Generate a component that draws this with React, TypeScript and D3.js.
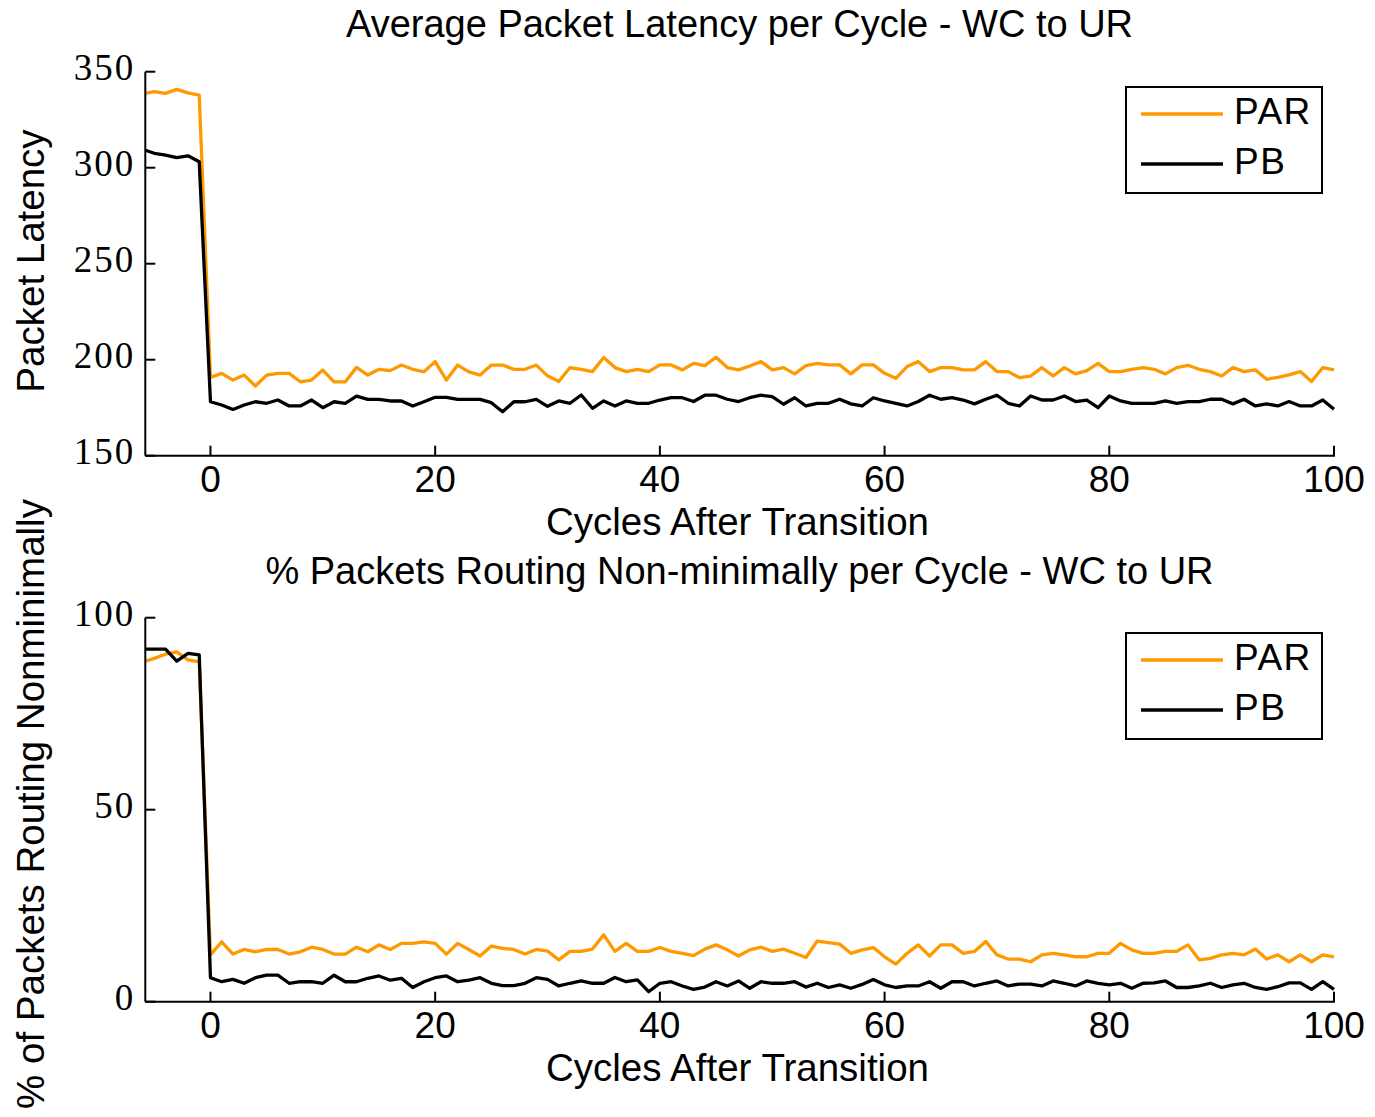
import React from "react";
import * as d3 from "d3";

// Cycle offsets relative to the traffic pattern transition
const cycles: number[] = d3.range(-6, 101);

// Average packet latency per cycle
const parLatency: number[] = [
  338.5, 339.6, 338.7, 340.8, 339, 337.8,
  190.8, 192.9, 189.4, 192, 186.3, 192, 192.9, 192.9, 188.5, 189.4, 194.6, 188.5, 188.5, 196, 192, 195, 194.3, 197.2, 195, 193.7, 199, 189.4, 197.2, 193.7, 192, 197.2, 197.2, 195, 195, 197.2, 191.6,
  188.6, 195.9, 195, 193.8, 201.1, 195.9, 193.8, 195, 193.8, 197.3, 197.3, 194.7, 198.1, 196.9, 201.3, 195.9, 194.7, 196.7, 199, 194.7, 195.9, 192.6, 196.9, 198.1, 197.3, 197.3, 192.6, 197.3, 197.3, 192.9, 190.3, 196.4, 199, 193.8, 195.9, 195.9,
  194.7, 194.7, 199, 193.8, 193.8, 190.7, 191.5, 195.9, 191.5, 195.9, 192.6, 194.3, 198.1, 193.8, 193.8, 195, 195.9, 195, 192.6, 195.9, 197.1, 195, 193.8, 191.5, 195.9, 193.8, 194.7, 189.8, 190.8, 192.1, 193.8, 188.6, 195.9, 194.7,
];
const pbLatency: number[] = [
  309.5, 307.5, 306.6, 305.2, 306.2, 303.1,
  178.1, 176.4, 174.1, 176.4, 178.1, 177.3, 179, 175.9, 175.9, 179, 175, 178.1, 177.3, 181, 179.3, 179.3, 178.5, 178.5, 175.9, 178.1, 180.4, 180.4, 179.3, 179.3, 179.3, 177.6, 172.9, 178.1, 178.1, 179.3, 175.7,
  178.5, 177.3, 181.6, 174.7, 178.5, 175.9, 178.5, 177.3, 177.3, 179, 180.2, 180.2, 178.2, 181.5, 181.5, 179.4, 178.2, 180.2, 181.5, 180.8, 176.8, 180.2, 175.9, 177.3, 177.3, 179.4, 177, 175.9, 180.2, 178.5, 177.3, 175.9, 178.2, 181.5, 179.4, 180.2,
  179, 177, 179.4, 181.5, 177.3, 175.9, 181.1, 179, 179, 181.1, 178.2, 179, 175, 181.1, 178.5, 177.3, 177.3, 177.3, 178.5, 177.3, 178.2, 178.2, 179.4, 179.4, 177, 179.4, 175.9, 177, 175.9, 178.2, 175.9, 175.9, 179, 174.2,
];

// Percentage of packets routed non-minimally per cycle
const parNonmin: number[] = [
  88.5, 89.4, 90.5, 91.1, 89, 88.5,
  12.2, 15.6, 12.4, 13.6, 13, 13.6, 13.6, 12.4, 13, 14.2, 13.6, 12.4, 12.4, 14.2, 13, 14.8, 13.6, 15.2, 15.2, 15.6, 15.2, 12.4, 15.2, 13.6, 11.9, 14.5, 13.9, 13.6, 12.4, 13.6, 13.2,
  10.9, 13.1, 13.1, 13.7, 17.4, 13.1, 15.2, 13.1, 13.1, 14.1, 13.1, 12.6, 12, 13.7, 14.8, 13.5, 11.9, 13.5, 14.2, 13.1, 13.7, 12.6, 11.5, 15.8, 15.4, 15, 12.6, 13.5, 14.1, 11.7, 9.8, 12.6, 14.8, 11.9, 14.8, 14.8,
  12.6, 13.1, 15.7, 12.2, 11.1, 11.1, 10.4, 12.2, 12.6, 12.2, 11.7, 11.7, 12.6, 12.6, 15.2, 13.5, 12.6, 12.6, 13.1, 13.1, 14.8, 10.9, 11.3, 12.2, 12.6, 12.2, 13.7, 11.1, 12.2, 10.4, 12.2, 10.4, 12.2, 11.7,
];
const pbNonmin: number[] = [
  91.8, 91.8, 91.8, 88.7, 90.7, 90.3,
  6.25, 5.2, 5.8, 4.8, 6.25, 6.9, 6.9, 4.8, 5.2, 5.2, 4.8, 6.9, 5.2, 5.2, 6.1, 6.7, 5.6, 6.1, 3.7, 5.2, 6.25, 6.7, 5.2, 5.6, 6.25, 4.8, 4.2, 4.2, 4.8, 6.25, 5.8,
  4.1, 4.8, 5.4, 4.8, 4.8, 6.3, 5.2, 5.7, 2.6, 4.8, 5.2, 4.1, 3.2, 3.8, 5.2, 4.1, 5.4, 3.5, 5.2, 4.8, 4.8, 5.2, 3.8, 4.8, 3.7, 4.4, 3.5, 4.5, 5.8, 4.4, 3.7, 4.1, 4.1, 5.2, 3.5, 5.2,
  5.2, 4.1, 4.8, 5.4, 4.1, 4.6, 4.6, 4.1, 5.4, 4.8, 4.1, 5.4, 4.8, 4.4, 4.8, 3.5, 4.8, 4.9, 5.4, 3.7, 3.7, 4.1, 4.8, 3.7, 4.4, 4.8, 3.7, 3.2, 3.9, 4.9, 4.9, 3.2, 5.2, 3.2,
];

const xTicks: number[] = [0, 20, 40, 60, 80, 100];
const latencyTicks: number[] = [150, 200, 250, 300, 350];
const nonminTicks: number[] = [0, 50, 100];
const seriesNames: string[] = ["PAR", "PB"];
const seriesColors: string[] = ["#ff9900", "#000000"];

const SANS = "'Liberation Sans', Arial, Helvetica, sans-serif";
const SERIF = "'Liberation Serif', 'Times New Roman', serif";
const FS = 38;

interface PanelProps {
  id: string;
  top: number;
  bottom: number;
  yDomain: [number, number];
  yTicks: number[];
  series: number[][];
  title: string;
  titleY: number;
  yLabel: string;
  yLabelCenter: number;
  legendTop: number;
}

const LEFT = 145.3;
const RIGHT = 1334;
const CENTER = 739.5;

function Panel(p: PanelProps) {
  const x = d3.scaleLinear().domain([-5.8, 100]).range([LEFT, RIGHT]);
  const y = d3.scaleLinear().domain(p.yDomain).range([p.bottom, p.top]);
  const line = d3
    .line<number>()
    .x((_, i) => x(cycles[i]))
    .y((v) => y(v));
  const tickLen = 10;
  const lg = { x: 1126, y: p.legendTop, w: 196, h: 106 };
  return (
    <g>
      <defs>
        <clipPath id={`clip-${p.id}`}>
          <rect x={LEFT} y={p.top - 20} width={RIGHT - LEFT + 2} height={p.bottom - p.top + 40} />
        </clipPath>
      </defs>
      <text x={CENTER} y={p.titleY} textAnchor="middle" fontSize={FS}>
        {p.title}
      </text>
      <g clipPath={`url(#clip-${p.id})`}>
        {p.series.map((s, k) => (
          <path
            key={k}
            d={line(s) || ""}
            fill="none"
            stroke={seriesColors[k]}
            strokeWidth={3.3}
            strokeLinejoin="round"
          />
        ))}
      </g>
      {/* axes */}
      <line x1={LEFT} x2={LEFT} y1={p.top} y2={p.bottom} stroke="#000" strokeWidth={2} />
      <line x1={LEFT} x2={RIGHT + 1} y1={p.bottom} y2={p.bottom} stroke="#000" strokeWidth={2} />
      {p.yTicks.map((t) => (
        <g key={`y${t}`}>
          <line x1={LEFT} x2={LEFT + tickLen} y1={y(t)} y2={y(t)} stroke="#000" strokeWidth={2} />
          <text
            x={LEFT - 10}
            y={y(t) + 8}
            textAnchor="end"
            fontSize={37}
            fontFamily={SERIF}
            letterSpacing={2}
          >
            {t}
          </text>
        </g>
      ))}
      {xTicks.map((t) => (
        <g key={`x${t}`}>
          <line x1={x(t)} x2={x(t)} y1={p.bottom} y2={p.bottom - tickLen} stroke="#000" strokeWidth={2} />
          <text x={x(t)} y={p.bottom + 36} textAnchor="middle" fontSize={37}>
            {t}
          </text>
        </g>
      ))}
      <text x={CENTER - 2} y={p.bottom + 79} textAnchor="middle" fontSize={38.5}>
        Cycles After Transition
      </text>
      <text
        transform={`translate(44, ${p.yLabelCenter}) rotate(-90)`}
        textAnchor="middle"
        fontSize={38.5}
      >
        {p.yLabel}
      </text>
      {/* legend */}
      <rect x={lg.x} y={lg.y} width={lg.w} height={lg.h} fill="#fff" stroke="#000" strokeWidth={2} />
      {seriesNames.map((n, k) => (
        <g key={n}>
          <line
            x1={lg.x + 15}
            x2={lg.x + 97}
            y1={lg.y + 27 + k * 50}
            y2={lg.y + 27 + k * 50}
            stroke={seriesColors[k]}
            strokeWidth={3.3}
          />
          <text x={lg.x + 108} y={lg.y + 37 + k * 50} fontSize={37} letterSpacing={1.5}>
            {n}
          </text>
        </g>
      ))}
    </g>
  );
}

export default function App() {
  return (
    <svg
      width={1375}
      height={1117}
      style={{ position: "absolute", left: 0, top: 0, background: "#fff" }}
      fontFamily={SANS}
    >
      <Panel
        id="lat"
        top={71.7}
        bottom={455.7}
        yDomain={[150, 350]}
        yTicks={latencyTicks}
        series={[parLatency, pbLatency]}
        title="Average Packet Latency per Cycle - WC to UR"
        titleY={37}
        yLabel="Packet Latency"
        yLabelCenter={261}
        legendTop={87}
      />
      <Panel
        id="nonmin"
        top={617.7}
        bottom={1001.7}
        yDomain={[0, 100]}
        yTicks={nonminTicks}
        series={[parNonmin, pbNonmin]}
        title="% Packets Routing Non-minimally per Cycle - WC to UR"
        titleY={584}
        yLabel="% of Packets Routing Nonminimally"
        yLabelCenter={804}
        legendTop={633}
      />
    </svg>
  );
}
